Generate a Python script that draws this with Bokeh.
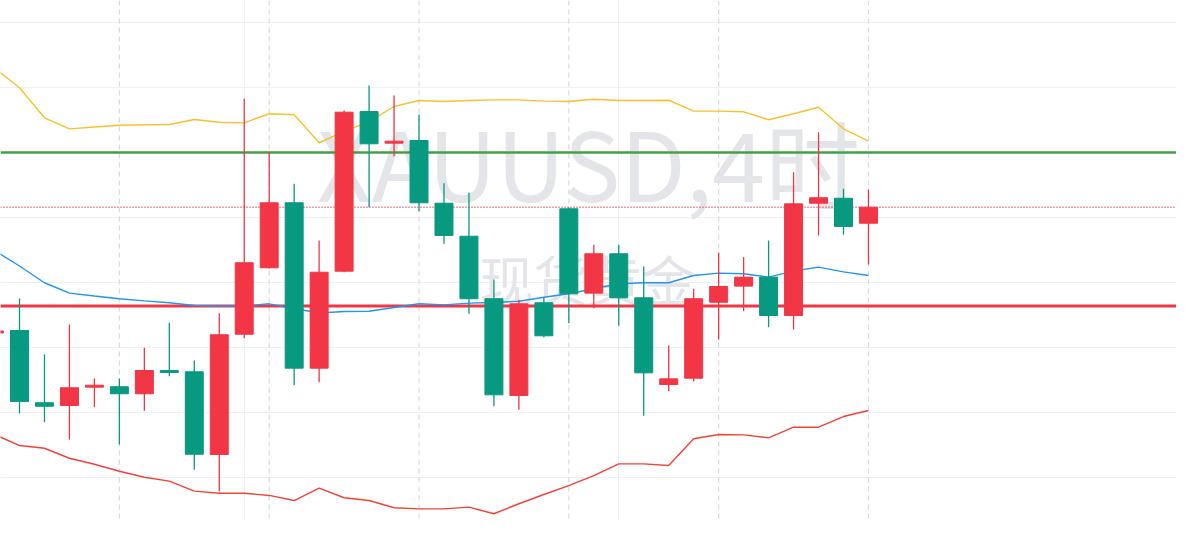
from bokeh.plotting import figure
from bokeh.models import Range1d, Span, Label, SingleIntervalTicker, FixedTicker, ColumnDataSource
from bokeh.embed import file_html
from bokeh.resources import INLINE

# ---- data (XAUUSD 4h) ----
idx = list(range(-1, 35))
open_ = [2631.12,
         2631.31, 2625.75, 2625.54, 2626.95, 2626.98, 2626.44, 2628.23, 2628.13, 2621.77, 2631.02,
         2636.13, 2641.13, 2628.41, 2635.87, 2648.15, 2645.72, 2645.92, 2641.10, 2638.56, 2633.75,
         2626.31, 2633.44, 2640.67, 2634.18, 2637.21, 2633.82, 2627.15, 2627.64, 2633.48, 2634.72,
         2635.41, 2632.46, 2641.10, 2641.48, 2639.56]
high = [2631.50,
        2633.77, 2629.46, 2631.77, 2627.62, 2627.62, 2629.98, 2631.90, 2629.00, 2632.64, 2649.13,
        2645.02, 2642.59, 2638.23, 2648.23, 2650.15, 2649.38, 2647.92, 2642.64, 2641.90, 2635.23,
        2633.67, 2633.87, 2640.77, 2637.90, 2637.90, 2636.23, 2630.15, 2634.52, 2637.28, 2636.95,
        2638.23, 2643.48, 2646.56, 2642.21, 2642.15]
low = [2630.90,
       2624.92, 2624.25, 2622.92, 2625.41, 2622.54, 2625.13, 2627.79, 2620.59, 2618.92, 2630.72,
       2636.08, 2627.10, 2627.33, 2635.79, 2640.79, 2644.72, 2640.48, 2637.98, 2632.59, 2625.48,
       2625.21, 2630.79, 2631.87, 2633.02, 2631.67, 2624.75, 2626.64, 2627.38, 2630.62, 2632.79,
       2631.56, 2631.38, 2638.62, 2638.67, 2636.38]
close = [2631.27,
         2625.85, 2625.48, 2626.90, 2627.10, 2626.44, 2628.23, 2628.08, 2621.79, 2630.98, 2636.52,
         2641.13, 2628.41, 2635.79, 2648.10, 2645.67, 2645.87, 2641.13, 2638.62, 2633.75, 2626.36,
         2633.36, 2630.90, 2634.13, 2637.21, 2633.82, 2628.05, 2627.59, 2633.75, 2634.69, 2635.41,
         2632.46, 2641.05, 2641.52, 2639.31, 2640.79]

band_idx = list(range(-1, 35))
bb_upper = [2651.50, 2649.98, 2647.67, 2646.82, 2646.96, 2647.10, 2647.13, 2647.15, 2647.54, 2647.33,
            2647.28, 2647.98, 2647.90, 2645.75, 2646.62, 2647.38, 2648.54, 2649.00, 2648.92, 2649.00,
            2649.05, 2649.05, 2648.95, 2648.92, 2649.10, 2649.00, 2649.00, 2649.02, 2648.18, 2648.18,
            2648.13, 2647.52, 2647.98, 2648.48, 2646.82, 2645.87]
bb_middle = [2637.46, 2636.27, 2634.98, 2634.18, 2633.96, 2633.75, 2633.59, 2633.44, 2633.23, 2633.19,
             2633.19, 2633.36, 2633.00, 2632.65, 2632.77, 2632.79, 2633.08, 2633.36, 2633.28, 2633.41,
             2633.46, 2633.56, 2633.87, 2634.13, 2634.52, 2634.90, 2634.98, 2634.98, 2635.54, 2635.72,
             2635.67, 2635.41, 2635.88, 2636.18, 2635.82, 2635.54]
bb_lower = [2623.31, 2622.46, 2622.25, 2621.48, 2621.02, 2620.48, 2620.02, 2619.72, 2618.95, 2618.79,
            2618.79, 2618.62, 2618.23, 2619.18, 2618.44, 2618.23, 2617.67, 2617.59, 2617.59, 2617.72,
            2617.21, 2617.98, 2618.69, 2619.38, 2620.15, 2621.05, 2621.05, 2620.92, 2622.98, 2623.31,
            2623.28, 2623.05, 2623.87, 2623.87, 2624.69, 2625.15]

resistance_level = 2645.0
support_level = 2633.2
session_breaks = [4, 10, 16, 22, 28, 34]
time_grid = [9, 24]
symbol_text = "XAUUSD,4时"
name_text = "现货黄金"

UP = "#f23645"
DOWN = "#089981"

p = figure(width=1176, height=520, output_backend="svg", toolbar_location=None,
           x_range=Range1d(-0.7609, 46.336), y_range=Range1d(2616.692, 2656.692),
           min_border=0, background_fill_color="white", border_fill_color="white")
p.outline_line_color = None
p.xaxis.visible = False
p.yaxis.visible = False
p.ygrid.ticker = SingleIntervalTicker(interval=5)
p.xgrid.ticker = FixedTicker(ticks=time_grid)
p.grid.grid_line_color = "#eef0f5"
p.grid.grid_line_width = 1

# watermark
p.add_layout(Label(x=588, y=360, x_units="screen", y_units="screen", text=symbol_text,
                   text_align="center", text_baseline="alphabetic", text_font="Noto Sans CJK SC",
                   text_font_size="95px", text_color="#e4e5e9", level="underlay"))
p.add_layout(Label(x=587, y=242, x_units="screen", y_units="screen", text=name_text,
                   text_align="center", text_baseline="middle", text_font="Noto Sans CJK SC",
                   text_font_size="54px", text_color="#e4e5e9", level="underlay"))

for b in session_breaks:
    p.add_layout(Span(location=b, dimension="height", line_color="#d8dbe3", line_width=1.2,
                      line_dash="5 4", level="underlay"))

p.add_layout(Span(location=resistance_level, dimension="width", line_color="#43a047",
                  line_width=2.5, level="underlay"))
p.add_layout(Span(location=support_level, dimension="width", line_color="#f23645",
                  line_width=3, level="underlay"))
p.add_layout(Span(location=close[-1], dimension="width", line_color="#f23645",
                  line_width=1.4, line_dash="1 2", level="underlay"))

# Bollinger bands
p.line(band_idx, bb_upper, line_color="#fbc02d", line_width=1.4)
p.line(band_idx, bb_middle, line_color="#2196f3", line_width=1.4)
p.line(band_idx, bb_lower, line_color="#f44336", line_width=1.4)

# candles (red = up, green = down)
colors = [UP if c >= o else DOWN for o, c in zip(open_, close)]
src = ColumnDataSource(dict(
    x=idx, high=high, low=low,
    top=[max(o, c) for o, c in zip(open_, close)],
    bottom=[min(o, c) for o, c in zip(open_, close)],
    color=colors))
p.segment(x0="x", y0="high", x1="x", y1="low", source=src, line_color="color", line_width=1.3)
p.vbar(x="x", top="top", bottom="bottom", width=0.72, source=src,
       fill_color="color", line_color="color", line_width=1)

open("out.html", "w").write(file_html(p, INLINE))
